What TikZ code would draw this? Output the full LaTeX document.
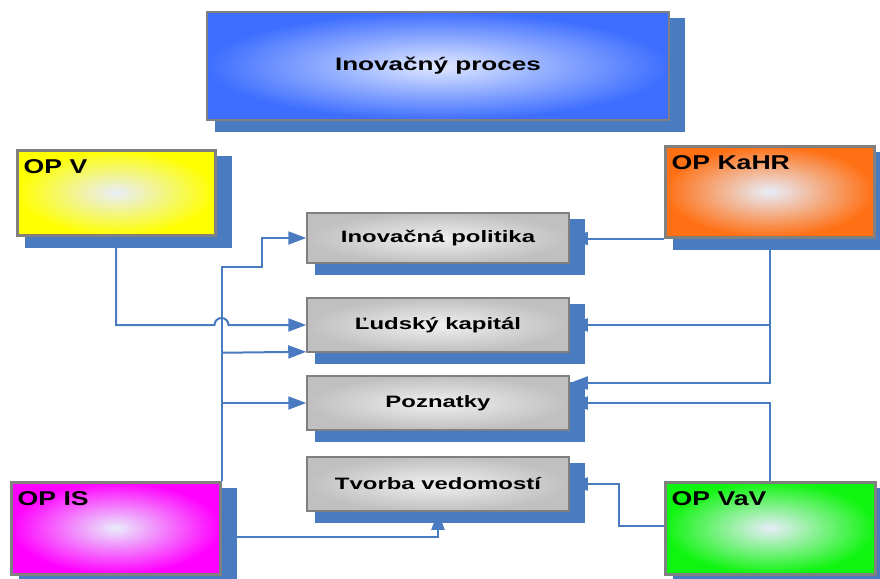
\documentclass[tikz,border=0pt]{standalone}
\usepackage{fontspec}
\setmainfont{Liberation Sans}
\newfontfamily\opfont[FakeStretch=1.33]{Liberation Sans}
\newfontfamily\boxfont[FakeStretch=1.45]{Liberation Sans}
\usepackage{xcolor}
\usepackage{tikz}
\usetikzlibrary{positioning}
\usetikzlibrary{backgrounds}
\usetikzlibrary{arrows.meta}

\definecolor{linkblue}{RGB}{74,123,192}
\definecolor{edgegray}{RGB}{128,128,128}
\definecolor{palecore}{RGB}{232,237,250}
\definecolor{procblue}{RGB}{62,110,255}
\definecolor{proccore}{RGB}{225,233,255}
\definecolor{opyellow}{RGB}{255,255,0}
\definecolor{oporange}{RGB}{255,112,20}
\definecolor{opmagenta}{RGB}{255,0,255}
\definecolor{opgreen}{RGB}{16,245,16}
\definecolor{boxgray}{RGB}{192,192,192}
\definecolor{boxcore}{RGB}{240,240,240}

\begin{document}
\begin{tikzpicture}[x=1pt, y=-1pt,
  opbox/.style={draw=edgegray, line width=3pt, inner sep=0pt, minimum width=209, minimum height=91, inner color=palecore, outer color=#1},
  oplabel/.style={anchor=north west, inner sep=0pt, xshift=8pt, yshift=-11pt, font=\opfont\bfseries\fontsize{20}{24}\selectfont},
  midbox/.style={draw=edgegray, line width=1.5pt, inner sep=0pt, minimum width=262, minimum height=54, inner color=boxcore, outer color=boxgray, font=\boxfont\bfseries\fontsize{16.5}{20}\selectfont},
  conn/.style={draw=linkblue, line width=2pt, -{Triangle[length=18pt, width=13pt]}}]

\useasboundingbox (0,0) rectangle (880,578);

% The process at the top
\node[draw=edgegray, line width=1.5pt, inner sep=0pt, minimum width=462, minimum height=108, inner color=proccore, outer color=procblue, font=\boxfont\bfseries\fontsize{18}{22}\selectfont] (proc) at (438,66) {Inovačný proces};

% The operational programmes
\node[opbox=opyellow, minimum width=198, minimum height=85, label={[oplabel]north west:OP V}] (opv) at (116,192.5) {};
\node[opbox=oporange, label={[oplabel]north west:OP KaHR}] (kahr) at (769.5,191.5) {};
\node[opbox=opmagenta, minimum height=92, label={[oplabel]north west:OP IS}] (opis) at (115.5,528) {};
\node[opbox=opgreen, minimum width=210, minimum height=92, label={[oplabel]north west:OP VaV}] (vav) at (770,528) {};

% The parts of the process
\node[midbox, minimum height=50] (pol) at (438,238) {Inovačná politika};
\node[midbox] (kap) at (438,325) {Ľudský kapitál};
\node[midbox] (pozn) at (438,403) {Poznatky};
\node[midbox] (tvor) at (438,484) {Tvorba vedomostí};

% Draw the shadows
\begin{scope}[on background layer]
\foreach \n in {proc,opv,kahr,opis,vav,pol,kap,pozn,tvor}
{
  \fill[linkblue] ([shift={(9,7)}]\n.north west) rectangle ([shift={(15,11)}]\n.south east);
}
\end{scope}

% Draw the links
\coordinate (bend) at (262,267);
\draw[conn] (opv.south) |- ([xshift=-7pt]opis.north east |- kap.west) arc[start angle=180, end angle=0, radius=7pt] -- (kap.west);
\draw[conn] (opis.north east) |- (bend) |- (pol.west);
\draw[conn] (opis.north east |- kap.south west) -- ([yshift=1pt]kap.south west);
\draw[conn] (opis.north east |- pozn.west) -- (pozn.west);
\draw[conn] ([yshift=-9pt]opis.east) -| (tvor.south);
\draw[conn] (kahr.south west) -- (kahr.south west -| pol.east);
\draw[conn] (kahr.south) |- ([yshift=20pt]pozn.east);
\draw[conn] (kahr.south |- kap.east) -- (kap.east);
\draw[conn] (vav.north) |- (pozn.east);
\draw[conn] ([yshift=2pt]vav.west) -| ([xshift=49pt]tvor.east) -- (tvor.east);

\end{tikzpicture}
\end{document}
